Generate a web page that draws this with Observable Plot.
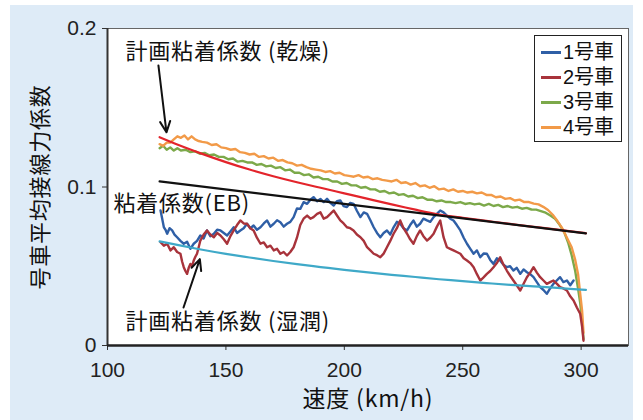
<!DOCTYPE html>
<html><head><meta charset="utf-8">
<script src="https://cdn.jsdelivr.net/npm/d3@7"></script>
<script src="https://cdn.jsdelivr.net/npm/@observablehq/plot@0.6"></script>
<style>
html,body{margin:0;padding:0;background:#fff;}
#panel{position:absolute;left:10px;top:5px;width:623px;height:415px;background:#deebf7;}
#legend{position:absolute;left:534px;top:35px;width:86px;height:105px;border:1.5px solid #222;background:#fff;font-family:"Liberation Sans","Noto Sans CJK JP",sans-serif;font-size:20px;color:#111;}
.row{position:absolute;left:0;height:24px;line-height:24px;}
.sw{position:absolute;left:6px;top:11px;width:20px;height:3px;}
.lab{position:absolute;left:28px;top:0;white-space:nowrap;}
</style></head>
<body>
<div id="panel"></div>
<div id="chart" style="position:absolute;left:10px;top:5px;"></div>
<div id="legend"></div>
<script>
const xTicks = [100, 150, 200, 250, 300];
const yTicks = [0, 0.1, 0.2];
const seriesNames = ["1号車", "2号車", "3号車", "4号車"];
const seriesColors = ["#2f5fa6", "#a8333b", "#7ca94a", "#f29a48"];

// 1号車 (speed km/h, coefficient)
const car1 = [[122.4,0.0852],[123.1,0.080],[123.8,0.0746],[124.5,0.073],[125.2,0.0705],[126.2,0.074],[127.3,0.0726],[128.3,0.070],[129.4,0.0683],[130.8,0.066],[132.2,0.0642],[133.6,0.0655],[135,0.061],[136.4,0.0642],[137.8,0.066],[139.2,0.0694],[140.6,0.0675],[142,0.0726],[143.4,0.069],[144.9,0.0705],[146.3,0.073],[147.7,0.0726],[149.1,0.071],[150.5,0.0694],[151.9,0.072],[153.3,0.0746],[154.7,0.071],[156.1,0.0726],[157.5,0.074],[158.9,0.0768],[160.3,0.074],[161.7,0.0757],[163.1,0.073],[164.6,0.0746],[166,0.077],[167.4,0.0789],[168.8,0.075],[170.2,0.0768],[171.6,0.079],[173,0.0778],[174.4,0.075],[175.8,0.0768],[177.2,0.078],[178.6,0.081],[180,0.0864],[181.4,0.0862],[182.8,0.0904],[184.3,0.0894],[185.7,0.092],[187,0.0936],[188.5,0.091],[189.9,0.0925],[191.3,0.0905],[192.7,0.0925],[194.1,0.090],[195.5,0.0883],[196.9,0.091],[198.3,0.0915],[199.7,0.088],[201.1,0.0873],[202.5,0.090],[203.9,0.0894],[205.3,0.085],[206.8,0.081],[208.2,0.084],[209.6,0.0831],[211,0.079],[212.4,0.0746],[213.8,0.071],[215.2,0.0683],[216.6,0.071],[218,0.0726],[219.4,0.070],[220.8,0.0746],[222.2,0.078],[223.6,0.0768],[225,0.074],[226.5,0.0726],[227.8,0.076],[229.2,0.0789],[230.6,0.075],[232,0.0768],[233.4,0.080],[234.9,0.0789],[236.3,0.078],[237.7,0.081],[239.1,0.083],[240.5,0.0852],[241.9,0.084],[243.3,0.082],[244.7,0.080],[246.1,0.0789],[247.5,0.076],[249,0.0726],[250.4,0.068],[251.8,0.0642],[253.2,0.061],[254.6,0.0579],[256,0.060],[257.4,0.0557],[258.8,0.058],[260.2,0.0579],[261.6,0.054],[263,0.0515],[264.4,0.055],[265.8,0.0536],[267.2,0.051],[268.6,0.0494],[270,0.050],[271.4,0.0473],[272.8,0.049],[274.3,0.0452],[275.7,0.048],[277.1,0.0462],[278.5,0.045],[279.9,0.0431],[281.3,0.040],[282.7,0.0368],[284.1,0.035],[285.5,0.0326],[286.9,0.036],[288.3,0.0389],[289.7,0.041],[291.1,0.0431],[292.5,0.040],[294,0.041],[295.4,0.038],[296.8,0.041]];

// 2号車
const car2 = [[122.4,0.0652],[123.8,0.063],[125.2,0.0642],[126.6,0.060],[128,0.062],[129.4,0.059],[130.8,0.0579],[131.5,0.053],[132.2,0.0494],[132.9,0.047],[133.6,0.0452],[134.3,0.049],[135,0.0515],[135.7,0.050],[136.4,0.0536],[137.1,0.056],[137.8,0.0579],[138.5,0.062],[139.2,0.0662],[140.6,0.070],[142,0.0726],[143.4,0.070],[144.9,0.0683],[146.3,0.071],[147.7,0.0694],[149.1,0.067],[150.5,0.0642],[151.9,0.069],[153.3,0.0726],[154.7,0.076],[156.1,0.0789],[157.5,0.077],[158.9,0.0768],[160.3,0.074],[161.7,0.0726],[163.1,0.068],[164.6,0.0642],[166,0.065],[167.4,0.062],[168.8,0.063],[170.2,0.060],[171.6,0.061],[173,0.0579],[174.4,0.059],[175.8,0.0568],[177.2,0.059],[178.6,0.062],[180,0.068],[181.4,0.076],[182.8,0.080],[184.3,0.082],[185.7,0.080],[187,0.081],[188.5,0.083],[189.9,0.084],[191.3,0.080],[192.7,0.081],[194.1,0.083],[195.5,0.0852],[196.9,0.082],[198.3,0.0789],[199.7,0.077],[201.1,0.0746],[202.5,0.074],[203.9,0.0726],[205.3,0.070],[206.8,0.0683],[208.2,0.066],[209.6,0.062],[211,0.060],[212.4,0.0579],[213.8,0.057],[215.2,0.0557],[216.6,0.058],[218,0.062],[219.4,0.066],[220.8,0.0705],[222.2,0.074],[223.6,0.0789],[225,0.074],[226.5,0.0705],[227.8,0.067],[229.2,0.0642],[230.6,0.069],[232,0.0726],[233.4,0.069],[234.9,0.0662],[236.3,0.068],[237.7,0.0705],[239.1,0.075],[240.5,0.0789],[241.9,0.0683],[243.3,0.062],[244.7,0.061],[246.1,0.060],[247.5,0.059],[249,0.0579],[250.4,0.055],[251.8,0.0536],[253.2,0.052],[254.6,0.0494],[256,0.045],[257.4,0.041],[258.8,0.043],[260.2,0.0452],[261.6,0.047],[263,0.0494],[264.4,0.052],[265.8,0.0557],[267.2,0.051],[268.6,0.0473],[270,0.044],[271.4,0.041],[272.8,0.038],[274.3,0.0347],[275.7,0.039],[277.1,0.0431],[278.5,0.046],[279.9,0.0494],[281.3,0.046],[282.7,0.0431],[284.1,0.041],[285.5,0.0389],[286.9,0.040],[288.3,0.041],[289.7,0.039],[291.1,0.0368],[292.5,0.036],[294,0.0347],[295.4,0.031],[296.8,0.0284],[298.2,0.024],[299.6,0.020],[300.4,0.012],[301,0.003]];

// 3号車
const car3 = [[122,0.1245],[123.5,0.126],[125,0.1235],[126.5,0.125],[128,0.123],[129.5,0.1245],[131,0.123],[133,0.1235],[135,0.122],[137,0.1225],[139,0.121],[141,0.1215],[143,0.120],[145,0.1205],[147,0.119],[149,0.119],[151,0.1175],[153,0.118],[155,0.116],[157,0.1165],[159,0.1155],[161,0.1155],[163,0.114],[165,0.1145],[167,0.113],[169,0.1135],[171,0.112],[173,0.1125],[175,0.1105],[177,0.111],[179,0.109],[181,0.109],[183,0.1075],[185,0.108],[187,0.106],[189,0.1065],[191,0.105],[193,0.105],[195,0.1035],[197,0.1035],[199,0.102],[201,0.1025],[203,0.101],[205,0.101],[207,0.0995],[209,0.100],[211,0.0985],[213,0.0985],[215,0.097],[217,0.0975],[219,0.096],[221,0.0965],[223,0.095],[225,0.0955],[227,0.094],[229,0.0945],[231,0.093],[233,0.0935],[235,0.092],[237,0.092],[239,0.091],[241,0.0915],[243,0.0905],[245,0.0905],[247,0.0898],[249,0.0905],[251,0.0893],[253,0.0898],[255,0.089],[257,0.0895],[259,0.0883],[261,0.0893],[263,0.088],[265,0.0887],[267,0.0873],[269,0.088],[271,0.087],[273,0.0875],[275,0.0863],[277,0.0868],[279,0.0858],[281,0.0857],[283,0.0848],[285,0.0838],[287,0.082],[289,0.080],[291,0.076],[293,0.071],[294.5,0.065],[296,0.057],[297.5,0.047],[298.7,0.036],[299.6,0.027],[300.4,0.015],[301,0.004]];

// 4号車
const car4 = [[122,0.127],[123.5,0.126],[125,0.128],[126.5,0.128],[128,0.130],[129.5,0.132],[131,0.131],[132.5,0.1325],[134,0.130],[135.5,0.132],[137,0.130],[138.5,0.129],[140,0.1285],[142,0.128],[144,0.1265],[146,0.127],[148,0.125],[150,0.1245],[152,0.1235],[154,0.124],[156,0.122],[158,0.1215],[160,0.1205],[162,0.121],[164,0.119],[166,0.1195],[168,0.118],[170,0.1185],[172,0.1165],[174,0.117],[176,0.1155],[178,0.115],[180,0.1135],[182,0.114],[184,0.1125],[186,0.1115],[188,0.111],[190,0.1105],[192,0.1095],[194,0.110],[196,0.1085],[198,0.109],[200,0.1075],[202,0.107],[204,0.1065],[206,0.1075],[208,0.106],[210,0.1065],[212,0.105],[214,0.1055],[216,0.1045],[218,0.104],[220,0.1035],[222,0.1045],[224,0.1025],[226,0.103],[228,0.1015],[230,0.1025],[232,0.1005],[234,0.101],[236,0.0995],[238,0.1005],[240,0.0985],[242,0.099],[244,0.0975],[246,0.0985],[248,0.097],[250,0.0975],[252,0.0965],[254,0.097],[256,0.096],[258,0.0965],[260,0.095],[262,0.095],[264,0.0935],[266,0.094],[268,0.0925],[270,0.093],[272,0.0915],[274,0.092],[276,0.0905],[278,0.0905],[280,0.0895],[282,0.089],[284,0.0875],[286,0.0855],[288,0.0825],[290,0.0785],[292,0.074],[294,0.068],[296,0.062],[297.5,0.054],[298.7,0.045],[299.5,0.034],[300.4,0.022],[301,0.008]];

// 計画粘着係数 (乾燥)
const planDry = [[122,0.1314],[130,0.1265],[140,0.1209],[150,0.1157],[160,0.1110],[170,0.1068],[180,0.1030],[190,0.0995],[200,0.0960],[210,0.0925],[220,0.0890],[230,0.0857],[240,0.0826],[250,0.0806],[260,0.0786],[270,0.0767],[280,0.0749],[290,0.0731],[300,0.0712],[302,0.0708]];
// 粘着係数 (EB)
const ebLine = [[122,0.1035],[302,0.0707]];
// 計画粘着係数 (湿潤)
const planWet = [[122,0.0657],[130,0.0633],[140,0.0604],[150,0.0578],[160,0.0555],[170,0.0533],[180,0.0513],[190,0.0495],[200,0.0477],[210,0.0461],[220,0.0446],[230,0.0432],[240,0.0418],[250,0.0406],[260,0.0394],[270,0.0383],[280,0.0373],[290,0.0363],[300,0.0353],[302,0.0351]];

const labels = [
  {text: "計画粘着係数 (乾燥)", x: 107.6, y: 0.1849},
  {text: "粘着係数(EB)", x: 102.5, y: 0.0890},
  {text: "計画粘着係数 (湿潤)", x: 107.6, y: 0.0151}
];
const arrows = [
  {x1: 121.5, y1: 0.1767, x2: 124.9, y2: 0.1345},
  {x1: 132.1, y1: 0.0240, x2: 139.0, y2: 0.0545}
];

const FONT = '"Liberation Sans","Noto Sans CJK JP",sans-serif';
const CJK = '"Noto Sans CJK JP","Liberation Sans",sans-serif';

const chart = Plot.plot({
  width: 623, height: 415,
  marginLeft: 97, marginRight: 5, marginTop: 23, marginBottom: 75,
  style: {background: "transparent", fontFamily: FONT, color: "#222"},
  x: {domain: [100, 320]},
  y: {domain: [0, 0.2]},
  marks: [
    Plot.frame({fill: "white", stroke: "#666", strokeWidth: 1}),
    Plot.axisX({ticks: xTicks, tickSize: 5, tickPadding: 12, fontSize: 21, label: null, stroke: "#333"}),
    Plot.axisY({ticks: yTicks, tickSize: 5, tickPadding: 6, fontSize: 21, label: null, stroke: "#333",
      tickFormat: d => d === 0 ? "0" : d.toFixed(1)}),
    Plot.ruleX([100], {stroke: "#333", strokeWidth: 2}),
    Plot.ruleY([0], {stroke: "#222", strokeWidth: 2.5}),
    Plot.line(car3, {x: d => d[0], y: d => d[1], stroke: seriesColors[2], strokeWidth: 2.4}),
    Plot.line(car4, {x: d => d[0], y: d => d[1], stroke: seriesColors[3], strokeWidth: 2.4}),
    Plot.line(car1, {x: d => d[0], y: d => d[1], stroke: seriesColors[0], strokeWidth: 2.4}),
    Plot.line(car2, {x: d => d[0], y: d => d[1], stroke: seriesColors[1], strokeWidth: 2.4}),
    Plot.line(planDry, {x: d => d[0], y: d => d[1], stroke: "#e3242b", strokeWidth: 2.2, curve: "natural"}),
    Plot.line(ebLine, {x: d => d[0], y: d => d[1], stroke: "#111", strokeWidth: 2.2}),
    Plot.line(planWet, {x: d => d[0], y: d => d[1], stroke: "#3fa9c8", strokeWidth: 2.2, curve: "natural"}),
    Plot.arrow(arrows, {x1: "x1", y1: "y1", x2: "x2", y2: "y2", stroke: "#111", strokeWidth: 2, headLength: 9, headAngle: 50}),
    Plot.text(labels, {x: "x", y: "y", text: "text", textAnchor: "start", fontSize: 22, fill: "#111", fontFamily: CJK}),
    Plot.text(["号車平均接線力係数"], {frameAnchor: "left", dx: -67, rotate: -90, textAnchor: "middle", fontSize: 22, fill: "#111", fontFamily: CJK}),
    Plot.text(["速度 (km/h)"], {frameAnchor: "bottom", dy: 61, textAnchor: "middle", fontSize: 23, fill: "#111", fontFamily: CJK})
  ]
});
d3.select(chart).selectAll('g[aria-label="text"] text').attr("letter-spacing", "0.8px");
document.getElementById("chart").appendChild(chart);

const lg = document.getElementById("legend");
seriesNames.forEach((n, i) => {
  const r = document.createElement("div");
  r.className = "row";
  r.style.top = (4 + i * 25) + "px";
  r.innerHTML = `<div class="sw" style="background:${seriesColors[i]}"></div><div class="lab">${n}</div>`;
  lg.appendChild(r);
});
</script>
</body></html>
